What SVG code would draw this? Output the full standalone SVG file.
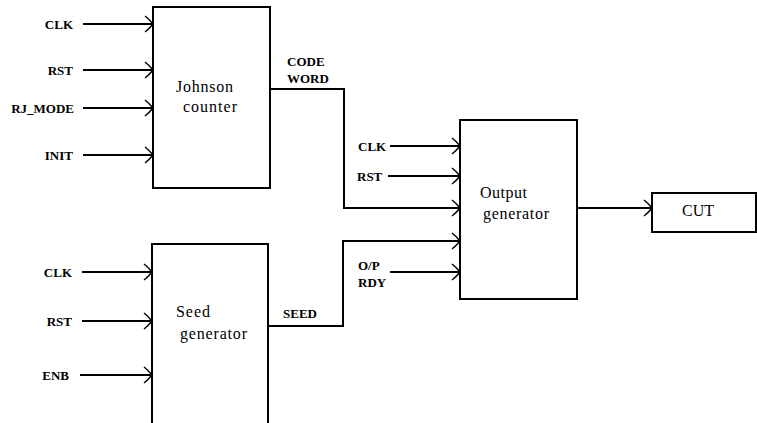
<svg xmlns="http://www.w3.org/2000/svg" width="757" height="423" viewBox="0 0 757 423">
<style>
.box{fill:#fff;stroke:#000;stroke-width:2}
.w{fill:none;stroke:#000;stroke-width:2}
.lab{font-family:'Liberation Serif','DejaVu Serif',serif;font-weight:bold;font-size:13px;fill:#000}
.btx{font-family:'Liberation Serif','DejaVu Serif',serif;font-size:16px;fill:#000}
</style>
<defs>
<marker id="ar" markerUnits="userSpaceOnUse" markerWidth="12" markerHeight="20" refX="9" refY="9" orient="auto">
<path d="M1,1 Q5,4 9,9 Q5,14 1,17" fill="none" stroke="#000" stroke-width="1.5"/>
</marker>
</defs>
<rect width="757" height="423" fill="#fff"/>
<g id="connectors">
<line class="w" x1="83" y1="24" x2="153" y2="24" marker-end="url(#ar)"/>
<line class="w" x1="83" y1="70" x2="153" y2="70" marker-end="url(#ar)"/>
<line class="w" x1="83" y1="108" x2="153" y2="108" marker-end="url(#ar)"/>
<line class="w" x1="83" y1="155" x2="153" y2="155" marker-end="url(#ar)"/>
<line class="w" x1="82" y1="272" x2="152" y2="272" marker-end="url(#ar)"/>
<line class="w" x1="82" y1="321" x2="152" y2="321" marker-end="url(#ar)"/>
<line class="w" x1="80" y1="375" x2="152" y2="375" marker-end="url(#ar)"/>
<polyline class="w" points="270,89 344,89 344,208 460,208" marker-end="url(#ar)"/>
<polyline class="w" points="268,326 343,326 343,241 460,241" marker-end="url(#ar)"/>
<line class="w" x1="390" y1="146" x2="460" y2="146" marker-end="url(#ar)"/>
<line class="w" x1="388" y1="176" x2="460" y2="176" marker-end="url(#ar)"/>
<line class="w" x1="390" y1="272" x2="460" y2="272" marker-end="url(#ar)"/>
<line class="w" x1="577" y1="208" x2="652" y2="208" marker-end="url(#ar)"/>
</g>
<g id="labels">
<text class="lab" x="73" y="29" text-anchor="end">CLK</text>
<text class="lab" x="73" y="75" text-anchor="end">RST</text>
<text class="lab" x="74" y="113" text-anchor="end">RJ_MODE</text>
<text class="lab" x="73" y="160" text-anchor="end">INIT</text>
<text class="lab" x="72" y="277" text-anchor="end">CLK</text>
<text class="lab" x="72" y="326" text-anchor="end">RST</text>
<text class="lab" x="69" y="380" text-anchor="end">ENB</text>
<text class="lab" x="287" y="66">CODE</text>
<text class="lab" x="287" y="83">WORD</text>
<text class="lab" x="283" y="318">SEED</text>
<text class="lab" x="358" y="151">CLK</text>
<text class="lab" x="357" y="181">RST</text>
<text class="lab" x="358" y="270">O/P</text>
<text class="lab" x="358" y="287">RDY</text>
</g>
<g id="johnson">
<rect class="box" x="153" y="7" width="117" height="181"/>
<text class="btx" x="176" y="92" textLength="57">Johnson</text>
<text class="btx" x="183" y="112" textLength="54">counter</text>
</g>
<g id="seed">
<rect class="box" x="152" y="244" width="116" height="190"/>
<text class="btx" x="176" y="317" textLength="34">Seed</text>
<text class="btx" x="180" y="339" textLength="67">generator</text>
</g>
<g id="output">
<rect class="box" x="460" y="120" width="117" height="179"/>
<text class="btx" x="480" y="198" textLength="47">Output</text>
<text class="btx" x="483" y="219" textLength="66">generator</text>
</g>
<g id="cut">
<rect class="box" x="652" y="193" width="104" height="39"/>
<text class="btx" x="682" y="216" textLength="32">CUT</text>
</g>
</svg>
